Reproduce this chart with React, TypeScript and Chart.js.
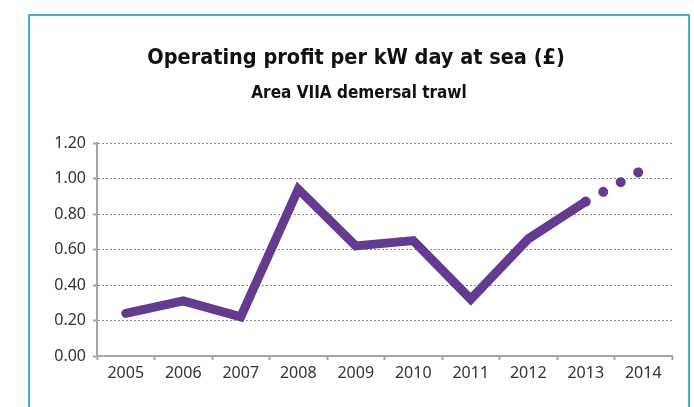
import React, { useEffect, useRef } from "react";
import { Chart, registerables } from "chart.js";

Chart.register(...registerables);

const years = ["2005", "2006", "2007", "2008", "2009", "2010", "2011", "2012", "2013", "2014"];
const profit = [0.24, 0.31, 0.22, 0.94, 0.62, 0.65, 0.32, 0.66, 0.87, 1.05];
const yTickMin = 0;
const yTickMax = 1.2;
const yTickStep = 0.2;
const titleText = "Operating profit per kW day at sea (£)";
const subtitleText = "Area VIIA demersal trawl";

const PURPLE = "#643C8F";

const titlePlugin = {
  id: "customTitles",
  afterDraw(chart: any) {
    const ctx = chart.ctx;
    ctx.save();
    ctx.fillStyle = "#111";
    ctx.textAlign = "center";
    ctx.textBaseline = "alphabetic";
    ctx.font = "bold 21.5px 'DejaVu Sans Condensed', 'DejaVu Sans'";
    ctx.fillText(titleText, 356, 64);
    ctx.font = "bold 17px 'DejaVu Sans Condensed', 'DejaVu Sans'";
    ctx.fillText(subtitleText, 359, 98);
    ctx.restore();
  },
};

export default function App() {
  const ref = useRef<HTMLCanvasElement | null>(null);

  useEffect(() => {
    if (!ref.current) return;
    const lastIdx = profit.length - 2;
    const chart = new Chart(ref.current, {
      type: "line",
      data: {
        labels: years,
        datasets: [
          {
            data: profit,
            borderColor: PURPLE,
            borderWidth: 9,
            borderCapStyle: "round",
            borderJoinStyle: "miter",
            pointRadius: 0,
            pointHoverRadius: 0,
            fill: false,
            tension: 0,
            segment: {
              borderDash: (ctx: any) => (ctx.p0DataIndex >= lastIdx ? [0.01, 19.99] : undefined),
              borderWidth: (ctx: any) => (ctx.p0DataIndex >= lastIdx ? 10 : undefined),
            },
          },
        ],
      },
      options: {
        responsive: false,
        animation: false,
        events: [],
        layout: { padding: { top: 143, right: 22, left: 0, bottom: 0 } },
        plugins: {
          legend: { display: false },
          title: { display: false },
          tooltip: { enabled: false },
        },
        scales: {
          x: {
            type: "category",
            offset: true,
            grid: {
              display: true,
              drawOnChartArea: false,
              drawTicks: true,
              offset: true,
              tickLength: 4,
              tickColor: "#a6a6a6",
              tickWidth: 2,
            },
            border: { display: true, color: "#a6a6a6", width: 2 },
            ticks: {
              color: "#333",
              padding: 4,
              maxRotation: 0,
              font: { family: "'Noto Sans'", size: 16 },
            },
            afterFit: (scale: any) => {
              scale.height = 51;
            },
          },
          y: {
            min: yTickMin,
            max: yTickMax,
            grid: {
              color: "#8a8a8a",
              lineWidth: 1,
              drawTicks: true,
              tickLength: 4,
              tickColor: "#a6a6a6",
              tickWidth: 2,
              tickBorderDash: [],
            },
            border: { display: true, color: "#a6a6a6", width: 2, dash: [2, 2] },
            ticks: {
              stepSize: yTickStep,
              color: "#333",
              padding: 7,
              font: { family: "'Noto Sans'", size: 16 },
              callback: (v: any) => Number(v).toFixed(2),
            },
            afterFit: (scale: any) => {
              scale.width = 97;
            },
          },
        },
      },
      plugins: [titlePlugin],
    });
    return () => chart.destroy();
  }, []);

  return (
    <div style={{ position: "fixed", left: 0, top: 0, width: 694, height: 407, background: "#fff", overflow: "hidden" }}>
      <div
        style={{
          position: "absolute",
          left: 28,
          top: 14,
          width: 662,
          height: 500,
          boxSizing: "border-box",
          border: "2px solid #45ADD8",
        }}
      />
      <canvas ref={ref} width={694} height={407} style={{ position: "absolute", left: 0, top: 0, display: "block" }} />
    </div>
  );
}
